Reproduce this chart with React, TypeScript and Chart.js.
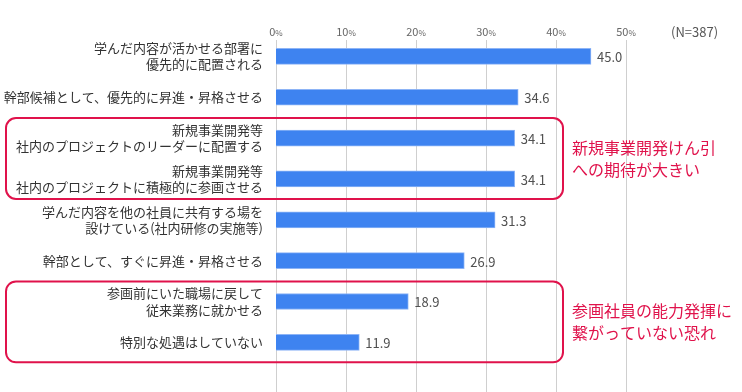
import React, { useEffect, useRef } from "react";
import { Chart, registerables } from "chart.js";

Chart.register(...registerables);

const categories: string[][] = [
  ["学んだ内容が活かせる部署に", "優先的に配置される"],
  ["幹部候補として、優先的に昇進・昇格させる"],
  ["新規事業開発等", "社内のプロジェクトのリーダーに配置する"],
  ["新規事業開発等", "社内のプロジェクトに積極的に参画させる"],
  ["学んだ内容を他の社員に共有する場を", "設けている(社内研修の実施等)"],
  ["幹部として、すぐに昇進・昇格させる"],
  ["参画前にいた職場に戻して", "従来業務に就かせる"],
  ["特別な処遇はしていない"],
];
const values: number[] = [45.0, 34.6, 34.1, 34.1, 31.3, 26.9, 18.9, 11.9];
const tickValues: number[] = [0, 10, 20, 30, 40, 50];
const sampleNote = "(N=387)";
const annotations = [
  { from: 2, to: 3, lines: ["新規事業開発けん引", "への期待が大きい"] },
  { from: 6, to: 7, lines: ["参画社員の能力発揮に", "繋がっていない恐れ"] },
];

const FONT = "'Noto Sans CJK JP', 'Noto Sans', sans-serif";
const RED = "#E0124B";

const overlay = {
  id: "overlay",
  beforeDatasetsDraw(chart: any) {
    const { ctx, scales } = chart;
    const x = scales.x;
    ctx.save();
    ctx.strokeStyle = "#cfcfcf";
    ctx.lineWidth = 1;
    tickValues.forEach((v) => {
      const px = Math.round(x.getPixelForValue(v)) + 0.5;
      ctx.beginPath();
      ctx.moveTo(px, 40);
      ctx.lineTo(px, 392);
      ctx.stroke();
    });
    ctx.fillStyle = "#666";
    ctx.textBaseline = "alphabetic";
    tickValues.forEach((v) => {
      const px = x.getPixelForValue(v);
      ctx.font = `11px ${FONT}`;
      const num = String(v);
      const wn = ctx.measureText(num).width;
      ctx.font = `8px ${FONT}`;
      const wp = ctx.measureText("%").width;
      const start = px - (wn + wp) / 2;
      ctx.font = `11px ${FONT}`;
      ctx.textAlign = "left";
      ctx.fillText(num, start, 36);
      ctx.font = `8px ${FONT}`;
      ctx.fillText("%", start + wn, 36);
    });
    ctx.restore();
  },
  afterDraw(chart: any) {
    const { ctx, scales } = chart;
    const x = scales.x;
    const y = scales.y;
    ctx.save();
    ctx.font = `13px ${FONT}`;
    ctx.fillStyle = "#505050";
    ctx.textAlign = "left";
    ctx.textBaseline = "middle";
    values.forEach((v, i) => {
      ctx.fillText(v.toFixed(1), x.getPixelForValue(v) + 6, y.getPixelForValue(i) + 1);
    });
    ctx.font = `13px ${FONT}`;
    ctx.fillStyle = "#555";
    ctx.fillText(sampleNote, 671, 32);
    const right = x.getPixelForValue(41);
    annotations.forEach((a) => {
      const top = y.getPixelForValue(a.from) - 20;
      const bottom = y.getPixelForValue(a.to) + 20;
      ctx.strokeStyle = RED;
      ctx.lineWidth = 2;
      ctx.beginPath();
      (ctx as any).roundRect(6, top, right - 6, bottom - top, 10);
      ctx.stroke();
      const mid = (top + bottom) / 2;
      ctx.fillStyle = RED;
      ctx.font = `16px ${FONT}`;
      ctx.textAlign = "left";
      ctx.textBaseline = "middle";
      ctx.fillText(a.lines[0], right + 9, mid - 11);
      ctx.fillText(a.lines[1], right + 9, mid + 11);
    });
    ctx.restore();
  },
};

export default function App() {
  const ref = useRef<HTMLCanvasElement | null>(null);
  useEffect(() => {
    document.body.style.margin = "0";
    if (!ref.current) return;
    const chart = new Chart(ref.current, {
      type: "bar",
      data: {
        labels: categories,
        datasets: [
          {
            data: values,
            backgroundColor: "#3E83F0",
            borderColor: "#8DB4F6",
            borderWidth: 1,
            barThickness: 16,
          },
        ],
      },
      options: {
        indexAxis: "y",
        animation: false,
        responsive: false,
        maintainAspectRatio: false,
        layout: { padding: { left: 0, right: 116, top: 36, bottom: 20 } },
        plugins: { legend: { display: false }, tooltip: { enabled: false } },
        scales: {
          x: {
            display: false,
            min: 0,
            max: 50,
          },
          y: {
            grid: { display: false, drawTicks: false },
            border: { display: false },
            afterFit: (scale: any) => {
              scale.width = 276;
            },
            ticks: {
              padding: 13,
              color: "#333",
              font: { family: FONT, size: 13, lineHeight: 1.25 },
            },
          },
        },
      },
      plugins: [overlay],
    });
    return () => chart.destroy();
  }, []);
  return <canvas ref={ref} width={742} height={392} style={{ display: "block", width: 742, height: 392 }} />;
}
